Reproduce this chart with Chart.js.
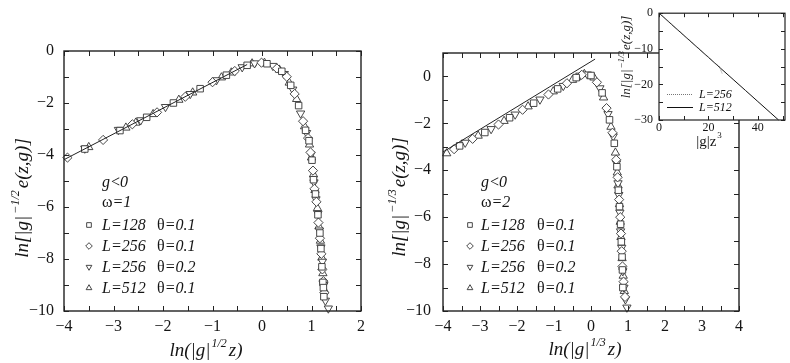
<!DOCTYPE html>
<html><head><meta charset="utf-8">
<script src="https://cdn.jsdelivr.net/npm/chart.js@4.4.1/dist/chart.umd.min.js"></script>
<style>
html,body{margin:0;padding:0;background:#fff;width:790px;height:363px;overflow:hidden;}
canvas{position:absolute;top:0;}
#c1{left:0;} #c2{left:380px;} #c3{left:590px;}
</style></head><body>
<canvas id="c1" width="380" height="363"></canvas>
<canvas id="c2" width="410" height="363"></canvas>
<canvas id="c3" width="200" height="150"></canvas>
<script>
// ---------- data ----------
const legendLabels = ['L=128', 'L=256', 'L=256', 'L=512'];
const legendThetas = ['θ=0.1', 'θ=0.1', 'θ=0.2', 'θ=0.1'];
const insetLabels = ['L=256', 'L=512'];
const xTicksMain1 = [-4, -3, -2, -1, 0, 1, 2];
const xTicksMain2 = [-4, -3, -2, -1, 0, 1, 2, 3, 4];
const yTickLabelsMain = [0, -2, -4, -6, -8, -10];
const xTicksInset = [0, 20, 40];
const yTicksInset = [0, -10, -20, -30];

// omega = 1 (left panel)
const w1_L128_t01 = [[-3.58,-3.77],[-2.87,-3.06],[-2.33,-2.55],[-1.79,-2.00],[-1.25,-1.45],[-0.72,-0.93],[-0.30,-0.55],[0.10,-0.49],[0.40,-0.78],[0.58,-1.32],[0.74,-2.10],[0.88,-3.05],[0.95,-3.45],[1.01,-4.20],[1.04,-4.95],[1.08,-5.50],[1.13,-6.30],[1.17,-7.00],[1.19,-7.60],[1.21,-8.30],[1.23,-8.90],[1.24,-9.10],[1.25,-9.45]];
const w1_L256_t01 = [[-3.93,-4.10],[-3.21,-3.42],[-2.62,-2.82],[-2.12,-2.36],[-1.55,-1.76],[-1.00,-1.20],[-0.55,-0.77],[-0.01,-0.45],[0.30,-0.67],[0.50,-0.99],[0.66,-1.65],[0.83,-2.70],[0.93,-3.35],[0.98,-3.90],[1.03,-4.60],[1.06,-5.30],[1.10,-5.80],[1.14,-6.60],[1.17,-7.20],[1.20,-7.80],[1.22,-8.40],[1.24,-8.85],[1.26,-9.30]];
const w1_L256_t02 = [[-3.58,-3.75],[-2.90,-3.03],[-2.45,-2.66],[-1.95,-2.15],[-1.45,-1.65],[-0.92,-1.12],[-0.40,-0.62],[-0.15,-0.47],[0.22,-0.57],[0.45,-0.88],[0.62,-1.48],[0.78,-2.40],[0.90,-3.15],[0.99,-3.98],[1.05,-5.05],[1.09,-5.70],[1.13,-6.25],[1.16,-6.90],[1.19,-7.55],[1.22,-8.10],[1.25,-9.00],[1.28,-9.60],[1.34,-9.90]];
const w1_L512_t01 = [[-3.50,-3.70],[-2.75,-2.95],[-2.55,-2.76],[-2.20,-2.43],[-1.68,-1.88],[-1.40,-1.60],[-0.82,-1.02],[-0.62,-0.83],[-0.20,-0.48],[0.05,-0.46],[0.35,-0.72],[0.55,-1.22],[0.70,-1.85],[0.86,-2.90],[0.96,-3.60],[1.00,-4.10],[1.04,-4.75],[1.07,-5.35],[1.12,-6.05],[1.15,-6.75],[1.18,-7.30],[1.21,-7.95],[1.23,-8.55],[1.26,-9.20]];
const w1_fit = [[-4.00,-4.18],[-0.30,-0.52]];

// omega = 2 (right panel)
const w2_L128_t01 = [[-3.55,-2.96],[-2.87,-2.39],[-2.20,-1.76],[-1.55,-1.14],[-0.90,-0.53],[-0.40,-0.05],[0.00,0.04],[0.30,-0.70],[0.50,-1.85],[0.63,-2.85],[0.70,-3.85],[0.74,-4.85],[0.77,-5.55],[0.80,-6.30],[0.82,-7.05],[0.84,-7.70],[0.85,-8.25],[0.86,-9.00]];
const w2_L256_t01 = [[-3.70,-3.10],[-3.20,-2.66],[-2.50,-2.05],[-1.85,-1.42],[-1.15,-0.77],[-0.65,-0.29],[-0.25,0.07],[0.16,-0.25],[0.42,-1.35],[0.58,-2.40],[0.68,-3.55],[0.72,-4.30],[0.76,-5.25],[0.79,-6.00],[0.81,-6.70],[0.83,-7.45],[0.85,-8.10],[0.88,-8.75],[0.92,-9.40]];
const w2_L256_t02 = [[-3.40,-2.82],[-2.70,-2.24],[-2.05,-1.62],[-1.38,-0.98],[-0.75,-0.40],[-0.30,0.04],[-0.10,0.09],[0.24,-0.50],[0.46,-1.60],[0.60,-2.55],[0.69,-3.70],[0.73,-4.55],[0.75,-5.05],[0.78,-5.80],[0.80,-6.60],[0.83,-7.30],[0.86,-8.30],[0.89,-9.00],[0.93,-9.50],[0.97,-9.85]];
const w2_L512_t01 = [[-3.90,-3.28],[-3.05,-2.53],[-2.35,-1.90],[-1.70,-1.28],[-1.02,-0.64],[-0.50,-0.15],[-0.18,0.10],[0.08,-0.05],[0.34,-0.90],[0.54,-2.15],[0.66,-3.25],[0.71,-4.10],[0.73,-4.65],[0.77,-5.45],[0.79,-6.20],[0.81,-6.85],[0.84,-7.75],[0.87,-8.50],[0.90,-9.15]];
const w2_fit = [[-4.00,-3.22],[0.11,0.74]];

// inset
const inset_L256 = [[0,0],[2,-1.1],[5,-3.0],[10,-6.1],[15,-9.2],[20,-12.3],[23,-14.2],[24.5,-15.0],[25,-16.0],[25.6,-17.0]];
const inset_L512 = [[0,0],[2,-1.2],[5,-3.1],[10,-6.2],[15,-9.3],[20,-12.4],[25,-15.5],[30,-18.6],[35,-21.7],[40,-24.8],[45,-27.9],[48.4,-30]];

// ---------- helpers ----------
const SERIF = '"Liberation Serif","DejaVu Serif","Times New Roman",serif';
const INK = '#151515';
function fnt(sz, it) { return (it ? 'italic ' : '') + sz + 'px ' + SERIF; }
function minus(v) { return String(v).replace('-', '\u2212'); }
function pts(arr) { return arr.map(p => ({x: p[0], y: p[1]})); }

// parts: [text, size, italic, dy, extraSpaceAfter]
function drawRich(ctx, parts, x, y, align, rot) {
  ctx.save();
  ctx.translate(x, y);
  if (rot) ctx.rotate(rot);
  let w = 0;
  parts.forEach(p => { ctx.font = fnt(p[1], p[2]); w += ctx.measureText(p[0]).width + (p[4] || 0); });
  let cx = align === 'center' ? -w / 2 : 0;
  ctx.textAlign = 'left'; ctx.textBaseline = 'alphabetic'; ctx.fillStyle = INK;
  parts.forEach(p => {
    ctx.font = fnt(p[1], p[2]);
    ctx.fillText(p[0], cx, p[3] || 0);
    cx += ctx.measureText(p[0]).width + (p[4] || 0);
  });
  ctx.restore();
}

const markerStyles = [
  {pointStyle: 'rect', rotation: 0, radius: 4.6},
  {pointStyle: 'rectRot', rotation: 0, radius: 4.6},
  {pointStyle: 'triangle', rotation: 180, radius: 4.8},
  {pointStyle: 'triangle', rotation: 0, radius: 4.8}
];

function drawMarker(ctx, st, x, y, r) {
  ctx.save();
  ctx.fillStyle = '#fff'; ctx.strokeStyle = '#333'; ctx.lineWidth = 0.9;
  const opts = {pointStyle: st.pointStyle, rotation: st.rotation, radius: r, borderWidth: 0.9};
  if (Chart.helpers && Chart.helpers.drawPoint) {
    Chart.helpers.drawPoint(ctx, opts, x, y);
  }
  ctx.restore();
}

const deco = {
  id: 'deco',
  beforeDatasetsDraw(chart, args, o) {
    if (o.fillArea) {
      const a = chart.chartArea, ctx = chart.ctx;
      ctx.save(); ctx.fillStyle = '#fff';
      ctx.fillRect(a.left, a.top, a.right - a.left, a.bottom - a.top);
      ctx.restore();
    }
  },
  afterDraw(chart, args, o) {
    const ctx = chart.ctx, a = chart.chartArea, xs = chart.scales.x, ys = chart.scales.y;
    ctx.save();
    ctx.strokeStyle = '#222'; ctx.lineWidth = 1;
    const tl = o.tickLen;
    ctx.beginPath();
    for (let i = 0; ; i++) {
      const v = xs.min + i * o.xStep; if (v > xs.max + 1e-9) break;
      const p = Math.round(xs.getPixelForValue(v)) + 0.5;
      ctx.moveTo(p, a.bottom); ctx.lineTo(p, a.bottom - tl);
      ctx.moveTo(p, a.top); ctx.lineTo(p, a.top + tl);
    }
    for (let i = 0; ; i++) {
      const v = ys.min + i * o.yStep; if (v > ys.max + 1e-9) break;
      const p = Math.round(ys.getPixelForValue(v)) + 0.5;
      ctx.moveTo(a.left, p); ctx.lineTo(a.left + tl, p);
      ctx.moveTo(a.right, p); ctx.lineTo(a.right - tl, p);
    }
    ctx.stroke();
    ctx.lineWidth = o.frameW;
    ctx.strokeRect(a.left, a.top, a.right - a.left, a.bottom - a.top);
    (o.texts || []).forEach(t => drawRich(ctx, t.parts, t.x, t.y, t.align, t.rot));
    if (o.legend) {
      const L = o.legend;
      drawRich(ctx, [['g', L.fs, true, 0, 1], ['<', L.fs, false], ['0', L.fs, true]], L.tx, L.rows[0], 'left');
      drawRich(ctx, [['ω', L.fs, false], ['=' + L.omega, L.fs, true]], L.tx, L.rows[1], 'left');
      for (let i = 0; i < legendLabels.length; i++) {
        const yb = L.rows[i + 2];
        drawMarker(ctx, markerStyles[i], L.mx, yb - 5, 3.3);
        drawRich(ctx, [[legendLabels[i], L.fs, true]], L.tx, yb, 'left');
        drawRich(ctx, [[legendThetas[i].slice(0, 1), L.fs, false], [legendThetas[i].slice(1), L.fs, true]], L.thx, yb, 'left');
      }
    }
    if (o.insetLegend) {
      const L = o.insetLegend;
      for (let i = 0; i < insetLabels.length; i++) {
        const yc = L.rows[i];
        ctx.save();
        ctx.strokeStyle = i === 0 ? '#777' : '#111';
        ctx.lineWidth = 1;
        ctx.setLineDash(i === 0 ? [1, 1] : []);
        ctx.beginPath(); ctx.moveTo(L.x0, yc + 0.5); ctx.lineTo(L.x1, yc + 0.5); ctx.stroke();
        ctx.restore();
        drawRich(ctx, [[insetLabels[i], L.fs, true]], L.tx, yc + 4, 'left');
      }
    }
    ctx.restore();
  }
};

function markerDatasets(arrs) {
  return arrs.map((arr, i) => ({
    label: legendLabels[i] + ' ' + legendThetas[i],
    data: pts(arr),
    showLine: false,
    pointStyle: markerStyles[i].pointStyle,
    rotation: markerStyles[i].rotation,
    pointRadius: markerStyles[i].radius,
    pointHoverRadius: markerStyles[i].radius,
    pointBackgroundColor: '#fff',
    pointBorderColor: '#333',
    pointBorderWidth: 0.9,
    clip: false
  }));
}
function lineDataset(arr, color, dash, label) {
  return {label: label || 'fit', data: pts(arr), showLine: true, pointRadius: 0, borderColor: color, borderWidth: 1, borderDash: dash || [], fill: false, clip: false};
}

function mainScales(xmin, xmax, ymax, yw, xh, ypad, xpad, xLabels) {
  return {
    x: {type: 'linear', min: xmin, max: xmax,
        grid: {display: false, drawTicks: false}, border: {display: false},
        afterFit: s => { s.height = xh; },
        ticks: {stepSize: 1, autoSkip: false, maxRotation: 0, padding: xpad, color: INK,
                font: {family: SERIF, size: 16},
                callback: v => xLabels.includes(v) ? minus(v) : ''}},
    y: {type: 'linear', min: -10, max: ymax,
        grid: {display: false, drawTicks: false}, border: {display: false},
        afterFit: s => { s.width = yw; },
        ticks: {stepSize: 1, autoSkip: false, padding: ypad, color: INK,
                font: {family: SERIF, size: 16},
                callback: v => yTickLabelsMain.includes(v) ? minus(v) : ''}}
  };
}

const common = {responsive: false, animation: false, devicePixelRatio: 1, events: []};
const legendRows = [187, 207, 230, 251, 272, 293];

// ---------- left panel ----------
new Chart(document.getElementById('c1'), {
  type: 'scatter',
  data: {datasets: [lineDataset(w1_fit, '#222')].concat(markerDatasets([w1_L128_t01, w1_L256_t01, w1_L256_t02, w1_L512_t01]))},
  options: Object.assign({}, common, {
    layout: {padding: {left: 24, right: 19, top: 51, bottom: 22}},
    scales: mainScales(-4, 2, 0, 40, 30, 10, 6, xTicksMain1),
    plugins: {legend: {display: false}, tooltip: {enabled: false},
      deco: {tickLen: 5, xStep: 0.5, yStep: 1, frameW: 1.4,
        texts: [
          {parts: [['ln(|g|', 19, true, 0, 1], ['1/2', 12, true, -9, 2], ['z)', 19, true]], x: 206, y: 356, align: 'center'},
          {parts: [['ln[|g|', 19, true, 0, 2], ['\u22121/2', 12, true, -9, 2], ['e(z,g)]', 19, true]], x: 28, y: 198, align: 'center', rot: -Math.PI / 2}
        ],
        legend: {fs: 16, tx: 102, thx: 157, mx: 89, omega: '1', rows: legendRows}}}
  }),
  plugins: [deco]
});

// ---------- right panel ----------
new Chart(document.getElementById('c2'), {
  type: 'scatter',
  data: {datasets: [lineDataset(w2_fit, '#222')].concat(markerDatasets([w2_L128_t01, w2_L256_t01, w2_L256_t02, w2_L512_t01]))},
  options: Object.assign({}, common, {
    layout: {padding: {left: 27, right: 51, top: 53, bottom: 22}},
    scales: mainScales(-4, 4, 1, 36, 30, 12, 6, xTicksMain2),
    plugins: {legend: {display: false}, tooltip: {enabled: false},
      deco: {tickLen: 5, xStep: 0.5, yStep: 1, frameW: 1.4,
        texts: [
          {parts: [['ln(|g|', 19, true, 0, 1], ['1/3', 12, true, -9, 2], ['z)', 19, true]], x: 205, y: 355, align: 'center'},
          {parts: [['ln[|g|', 19, true, 0, 2], ['\u22121/3', 12, true, -9, 2], ['e(z,g)]', 19, true]], x: 25, y: 197, align: 'center', rot: -Math.PI / 2}
        ],
        legend: {fs: 16, tx: 101, thx: 157, mx: 90, omega: '2', rows: legendRows}}}
  }),
  plugins: [deco]
});

// ---------- inset ----------
new Chart(document.getElementById('c3'), {
  type: 'scatter',
  data: {datasets: [lineDataset(inset_L256, '#777', [1, 1], insetLabels[0]), lineDataset(inset_L512, '#111', [], insetLabels[1])]},
  options: Object.assign({}, common, {
    layout: {padding: {left: 39, right: 5, top: 8, bottom: 12}},
    scales: {
      x: {type: 'linear', min: 0, max: 51,
          grid: {display: false, drawTicks: false}, border: {display: false},
          afterFit: s => { s.height = 18; },
          ticks: {stepSize: 10, autoSkip: false, maxRotation: 0, padding: 1, color: INK,
                  font: {family: SERIF, size: 12},
                  callback: v => xTicksInset.includes(v) ? String(v) : ''}},
      y: {type: 'linear', min: -30, max: 0,
          grid: {display: false, drawTicks: false}, border: {display: false},
          afterFit: s => { s.width = 30; },
          ticks: {stepSize: 5, autoSkip: false, padding: 6, color: INK,
                  font: {family: SERIF, size: 12},
                  callback: v => yTicksInset.includes(v) ? minus(v) : ''}}
    },
    plugins: {legend: {display: false}, tooltip: {enabled: false},
      deco: {fillArea: true, tickLen: 4, xStep: 10, yStep: 5, frameW: 1.2,
        texts: [
          {parts: [['|g|z', 15, false, 0, 1], ['3', 9, false, -8]], x: 119, y: 146, align: 'center'},
          {parts: [['ln[|g|', 13, true, 0, 1], ['\u22121/3', 9, true, -6, 1], ['e(z,g)]', 13, true]], x: 40, y: 57, align: 'center', rot: -Math.PI / 2}
        ],
        insetLegend: {fs: 12, x0: 77, x1: 103, tx: 109, rows: [94, 107]}}}
  }),
  plugins: [deco]
});
</script>
</body></html>
